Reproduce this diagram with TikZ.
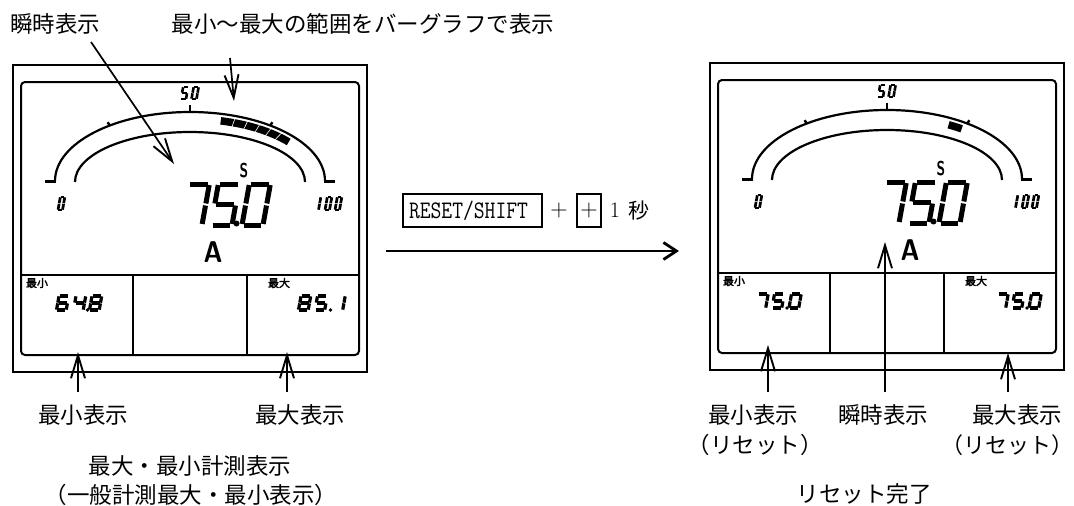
\documentclass[tikz,border=0pt]{standalone}
\usepackage{fontspec}
\usetikzlibrary{arrows.meta,calc}
\newfontfamily\jp{Noto Sans CJK JP}
\newfontfamily\jpb[FakeBold=2.5]{Noto Sans CJK JP}

\tikzset{
 lbl/.style={font=\jp\fontsize{22.5}{26}\selectfont, inner sep=0pt},
 ann/.style={line width=1.7pt, -{Straight Barb[length=23pt,width=14pt,line width=1.9pt]}},
 bigarrow/.style={line width=2.8pt, -{Straight Barb[length=13pt,width=17pt]}},
 frameo/.style={line width=2.6pt},
 framei/.style={line width=2pt, rounded corners=4pt},
 arcl/.style={line width=2.2pt},
 keybox/.style={draw, line width=1.8pt, inner sep=0pt, minimum height=33pt},
 tiny/.style={font=\jpb\fontsize{11}{12}\selectfont, inner sep=0pt},
}

% seven-segment digit: x0, y0 (bottom), W, H, line width, segments
\newcommand\sdig[6]{%
 \begin{scope}[shift={(#1,#2)}, x={(#3pt,0pt)}, y={(0.09*#4pt,0.5*#4pt)}, line width=#5pt]
  \foreach \s in {#6}{%
   \if a\s \draw (0.08,2)--(0.92,2);\fi
   \if b\s \draw (1,1.95)--(1,1.05);\fi
   \if c\s \draw (1,0.95)--(1,0.05);\fi
   \if d\s \draw (0.08,0)--(0.92,0);\fi
   \if e\s \draw (0,0.95)--(0,0.05);\fi
   \if f\s \draw (0,1.95)--(0,1.05);\fi
   \if g\s \draw (0.08,1)--(0.92,1);\fi
  }%
 \end{scope}}

\newcommand\meterbase[1]{%
 \draw[frameo] (13,65) rectangle (367,372);
 \draw[framei] (21,82) rectangle (359,355);
 \draw[line width=2pt] (21,275)--(359,275) (133,275)--(133,355) (247,275)--(247,355);
 \coordinate (#1C) at (190,181);
 \draw[arcl] (55,181) arc[start angle=180,end angle=0,x radius=135pt,y radius=69pt];
 \draw[arcl] (75,182) arc[start angle=180,end angle=0,x radius=115pt,y radius=50pt];
 \draw[line width=3pt] (45,181)--(56,181) (324,181)--(335,181);
 \draw[line width=2.4pt] (190,112)--(190,105);
 \foreach \t in {126.4,53.6} \draw[line width=2.4pt] ($(#1C)+(\t:135pt and 69pt)$)--($(#1C)+(\t:139pt and 73pt)$);
 % big value 75.0
 \sdig{181}{225}{21}{41}{5}{a,b,c}
 \sdig{211}{225}{21}{41}{5}{a,f,g,c,d}
 \fill (236.5,223.5) circle[radius=3pt];
 \sdig{242}{225}{21}{41}{5}{a,b,c,d,e,f}
 % scale labels
 \sdig{58}{210}{4.5}{13}{2.7}{a,b,c,d,e,f}
 \sdig{314}{210}{4.5}{13}{2.7}{b,c}
 \sdig{325}{210}{4.5}{13}{2.7}{a,b,c,d,e,f}
 \sdig{335}{210}{4.5}{13}{2.7}{a,b,c,d,e,f}
 \sdig{181}{99}{5}{12}{2.6}{a,f,g,c,d}
 \sdig{191.5}{99}{5}{12}{2.6}{a,b,c,d,e,f}
 \node[font=\sffamily\bfseries\fontsize{20}{20}\selectfont, inner sep=0pt] (#1S) at (244,171) {\scalebox{0.7}[1]{S}};
 \node[font=\sffamily\bfseries\fontsize{30}{30}\selectfont, inner sep=0pt] (#1A) at (213,252) {\scalebox{0.86}[1]{A}};
 \node[tiny] (#1min) at (37,283) {最小};
 \node[tiny] (#1max) at (279,283) {最大};
}

\begin{document}
\begin{tikzpicture}[x=1pt,y=-1pt]
\useasboundingbox (0,0) rectangle (1074,506);
\fill[white] (0,0) rectangle (1074,506);

% ---------- left meter ----------
\begin{scope}
 \meterbase{L}
 \draw[line width=7.5pt] ($(LC)+(76:127pt and 62pt)$) arc[start angle=76,end angle=39,x radius=127pt,y radius=62pt];
 \foreach \t in {70,64,58,52,46} \draw[white, line width=0.6pt] ($(LC)+(\t:122pt and 57pt)$)--($(LC)+(\t:132pt and 67pt)$);
 % min 64.8
 \sdig{56.5}{310}{9.7}{14}{3.2}{a,f,g,e,d,c}
 \sdig{73.5}{310}{9.7}{14}{3.2}{f,g,b,c}
 \fill (87.5,310) circle[radius=1.9pt];
 \sdig{89.5}{310}{9.7}{14}{3.2}{a,b,c,d,e,f,g}
 % max 85.1
 \sdig{298.5}{310}{9.7}{14}{3.2}{a,b,c,d,e,f,g}
 \sdig{315}{310}{9.7}{14}{3.2}{a,f,g,c,d}
 \fill (330.5,310) circle[radius=1.9pt];
 \sdig{333}{310}{9.7}{14}{3.2}{b,c}
\end{scope}

% ---------- right meter ----------
\begin{scope}[shift={(697,-2)}]
 \meterbase{R}
 \draw[line width=7.5pt] ($(RC)+(61:127pt and 62pt)$) arc[start angle=61,end angle=54,x radius=127pt,y radius=62pt];
 \sdig{59}{310}{9.7}{14}{3.2}{a,b,c}
 \sdig{75}{310}{9.7}{14}{3.2}{a,f,g,c,d}
 \fill (90,310) circle[radius=1.9pt];
 \sdig{92}{310}{9.7}{14}{3.2}{a,b,c,d,e,f}
 \sdig{299}{310}{9.7}{14}{3.2}{a,b,c}
 \sdig{315}{310}{9.7}{14}{3.2}{a,f,g,c,d}
 \fill (330,310) circle[radius=1.9pt];
 \sdig{332}{310}{9.7}{14}{3.2}{a,b,c,d,e,f}
\end{scope}

% ---------- left labels and arrows ----------
\node[lbl] (t1) at (55,24) {瞬時表示};
\node[lbl] (t2) at (363,24) {最小〜最大の範囲をバーグラフで表示};
\coordinate (a1s) at (91,42);  \coordinate (a1e) at (174,164);
\coordinate (a2s) at (230,58); \coordinate (a2e) at (234,101);
\draw[ann] (a1s) -- (a1e);
\draw[ann] (a2s) -- (a2e);

\coordinate (b1s) at (78,392);  \coordinate (b1e) at (78,352);
\coordinate (b2s) at (287,392); \coordinate (b2e) at (287,352);
\draw[ann] (b1s) -- (b1e);
\draw[ann] (b2s) -- (b2e);
\node[lbl] (t3) at (83,415) {最小表示};
\node[lbl] (t4) at (300,415) {最大表示};
\node[lbl] (t5) at (190,466) {最大・最小計測表示};
\node[lbl] (t6) at (191,495) {（一般計測最大・最小表示）};

% ---------- middle ----------
\node[keybox, minimum width=139pt] (k1) at (472.5,210.5) {\scalebox{1}[1.2]{\ttfamily\fontsize{21}{22}\selectfont RESET/SHIFT}\hspace*{8pt}};
\node[inner sep=0pt, font=\fontsize{24}{24}\selectfont] (plus) at (559,210.5) {+};
\node[keybox, minimum width=24pt, font=\fontsize{24}{24}\selectfont] (k2) at (589,210.5) {+};
\node[inner sep=0pt, font=\fontsize{22}{22}\selectfont] (one) at (615,210.5) {1};
\node[inner sep=0pt, font=\jp\fontsize{21}{22}\selectfont] (sec) at (639,210.5) {秒};
\coordinate (ms) at (386,251); \coordinate (me) at (679,251);
\draw[bigarrow] (ms) -- (me);

% ---------- right labels and arrows ----------
\coordinate (c1s) at (768,392);  \coordinate (c1e) at (768,345);
\coordinate (c2s) at (885,392);  \coordinate (c2e) at (885,242);
\coordinate (c3s) at (1008,392); \coordinate (c3e) at (1008,353);
\draw[ann] (c1s) -- (c1e);
\draw[ann] (c2s) -- (c2e);
\draw[ann] (c3s) -- (c3e);
\node[lbl] (r1) at (753,415) {最小表示};
\node[lbl] (r2) at (755,445) {（リセット）};
\node[lbl] (r3) at (883,415) {瞬時表示};
\node[lbl] (r4) at (1017,415) {最大表示};
\node[lbl, font=\jp\fontsize{22}{26}\selectfont] (r5) at (1007,445) {（リセット）};
\node[lbl] (r6) at (864,494) {リセット完了};
\end{tikzpicture}
\end{document}
